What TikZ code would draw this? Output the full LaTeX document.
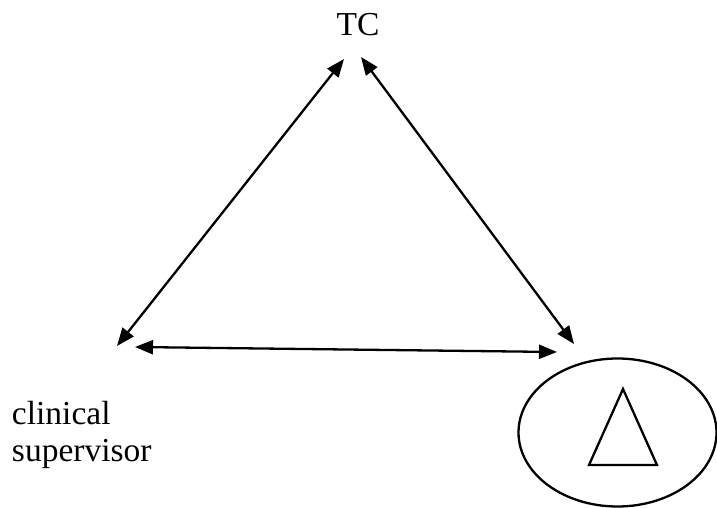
\documentclass[tikz,border=0pt]{standalone}
\usepackage{fontspec}
\setmainfont{Liberation Serif}
\usetikzlibrary{arrows.meta,positioning,shapes.geometric}

\begin{document}
\begin{tikzpicture}[x=1pt,y=-1pt,font=\fontsize{33.5}{37}\selectfont]
  \tikzset{link/.style={{Triangle[length=18pt,width=14pt]}-{Triangle[length=18pt,width=14pt]}, line width=2.3pt},
           label/.style={inner sep=0pt, outer sep=0pt, align=left}}
  \useasboundingbox (0,0) rectangle (717,508);
  % roles
  \node[label, anchor=base] (tc) at (358,36) {TC};
  \node[label, anchor=base west] (cs) at (12,461) {clinical\\supervisor};
  \node[ellipse, draw, line width=2.3pt, minimum width=198pt, minimum height=148pt, inner sep=0pt] (trainee) at (617.5,432.5) {};
  \draw[line width=2.3pt, line join=miter] (623,389) -- (589,465) -- (657,465) -- cycle;
  % arrow ends
  \coordinate (tcL) at (344,59);
  \coordinate (tcR) at (361,57);
  \coordinate (csU) at (117,346);
  \coordinate (csR) at (135,347);
  \coordinate (trU) at (574,344);
  \coordinate (trL) at (557,352);
  \draw[link] (csU) -- (tcL);
  \draw[link] (tcR) -- (trU);
  \draw[link] (csR) -- (trL);
\end{tikzpicture}
\end{document}
